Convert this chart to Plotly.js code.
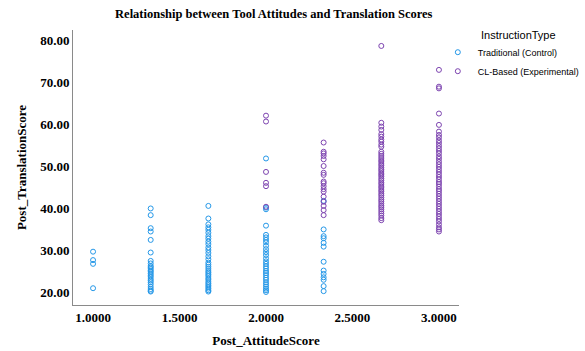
<!DOCTYPE html>
<html>
<head>
<meta charset="utf-8">
<script src="https://cdn.plot.ly/plotly-3.0.1.min.js"></script>
<style>
  html, body { margin: 0; padding: 0; background: #fff; }
  #chart { width: 585px; height: 351px; }
</style>
</head>
<body>
<div id="chart"></div>
<script>
// Attitude score levels (x); each score list below lines up with one level
const attitudeLevels = [1.0, 1.3333, 1.6667, 2.0, 2.3333, 2.6667, 3.0];

// Traditional (Control) group: post-test scores per attitude level
const ctrlScores = [
  [29.6, 27.6, 26.7, 20.9],
  [39.9, 38.3, 35.2, 34.4, 32.4, 29.4, 27.4, 26.8, 26.2, 25.9, 25.5, 25.1,
   24.8, 24.4, 24.0, 23.6, 23.1, 22.7, 22.3, 21.8, 21.2, 20.7, 20.3, 20.1],
  [40.5, 37.5, 36.1, 35.4, 34.8, 34.1, 33.3, 32.7, 32.0, 31.4, 30.6, 30.0,
   29.3, 28.5, 27.8, 27.0, 26.5, 26.0, 25.5, 25.0, 24.6, 24.2, 23.8, 23.3,
   22.9, 22.4, 22.0, 21.6, 21.2, 20.8, 20.4, 20.1],
  [51.8, 40.1, 39.7, 35.8, 33.6, 33.0, 32.4, 31.8, 31.0, 30.2, 29.5, 28.8,
   28.0, 27.3, 26.7, 26.1, 25.6, 25.0, 24.5, 24.0, 23.4, 22.9, 22.3, 21.8,
   21.3, 20.8, 20.4, 20.0],
  [41.7, 34.9, 33.3, 32.8, 31.7, 30.8, 27.2, 25.1, 24.3, 23.5, 22.9, 21.4, 20.2],
  [],
  []
];

// CL-Based (Experimental) group: post-test scores per attitude level
const expScores = [
  [],
  [],
  [],
  [62.0, 60.6, 48.6, 46.0, 45.2, 40.3],
  [55.6, 53.4, 53.0, 52.4, 51.6, 50.0, 48.4, 47.9, 46.3, 45.9, 45.2, 44.5,
   43.9, 42.7, 41.5, 40.5, 39.5, 38.3],
  [78.6, 60.3, 59.4, 58.6, 57.6, 57.0, 56.3, 55.8, 55.1, 54.6, 53.4, 52.9,
   52.4, 51.9, 51.4, 51.0, 50.5, 50.1, 49.6, 49.2, 48.8, 48.3, 47.9, 47.5,
   47.0, 46.6, 46.1, 45.7, 45.2, 44.8, 44.3, 43.9, 43.4, 43.0, 42.5, 42.0,
   41.6, 41.1, 40.6, 40.2, 39.7, 39.2, 38.7, 38.2, 37.6, 37.1],
  [72.9, 68.9, 68.5, 62.5, 59.8, 58.2, 57.4, 56.8, 56.1, 55.5, 54.8, 54.2,
   53.6, 53.0, 52.3, 51.7, 51.0, 50.4, 49.8, 49.2, 48.6, 48.0, 47.4, 46.8,
   46.2, 45.7, 45.1, 44.5, 44.0, 43.4, 42.8, 42.2, 41.6, 41.0, 40.4, 39.8,
   39.2, 38.6, 38.0, 37.4, 36.8, 36.1, 35.4, 34.9, 34.4]
];

const groupNames = ["Traditional (Control)", "CL-Based (Experimental)"];
const groupColors = ["#2598e8", "#7d44b0"];
const legendHeader = "InstructionType";

// Flatten per-level score lists into x/y point lists
function toPoints(table) {
  const xs = [], ys = [];
  table.forEach((scores, i) => {
    scores.forEach(v => { xs.push(attitudeLevels[i]); ys.push(v); });
  });
  return { xs, ys };
}

const traces = [ctrlScores, expScores].map((table, i) => {
  const p = toPoints(table);
  return {
    type: "scatter",
    mode: "markers",
    name: groupNames[i],
    x: p.xs,
    y: p.ys,
    marker: {
      symbol: "circle-open",
      size: 5,
      color: groupColors[i],
      line: { width: 1, color: groupColors[i] }
    },
    hoverinfo: "x+y+name"
  };
});

const serifBold = "Liberation Serif, Times New Roman, serif";

const layout = {
  width: 585,
  height: 351,
  margin: { l: 73, r: 126, t: 30, b: 46, autoexpand: false },
  paper_bgcolor: "#ffffff",
  plot_bgcolor: "#ffffff",
  showlegend: true,
  title: {
    text: "<b>Relationship between Tool Attitudes and Translation Scores</b>",
    font: { family: serifBold, size: 12.5, color: "#000" },
    x: 0.468, xanchor: "center",
    y: 0.96, yanchor: "middle"
  },
  xaxis: {
    range: [0.884, 3.116],
    tickvals: [1.0, 1.5, 2.0, 2.5, 3.0],
    tickformat: ".4f",
    showgrid: false,
    zeroline: false,
    showline: true,
    linecolor: "#8a8a8a",
    linewidth: 1,
    ticks: "",
    tickfont: { family: serifBold, size: 13, color: "#000", weight: "bold" },
    title: {
      text: "<b>Post_AttitudeScore</b>",
      font: { family: serifBold, size: 13, color: "#000" },
      standoff: 12
    }
  },
  yaxis: {
    range: [16.9, 82.4],
    tickvals: [20, 30, 40, 50, 60, 70, 80],
    tickformat: ".2f",
    showgrid: false,
    zeroline: false,
    showline: true,
    linecolor: "#8a8a8a",
    linewidth: 1,
    ticks: "",
    tickfont: { family: serifBold, size: 13, color: "#000", weight: "bold" },
    title: {
      text: "<b>Post_TranslationScore</b>",
      font: { family: serifBold, size: 13, color: "#000" },
      standoff: 10
    }
  },
  legend: {
    x: 0.984, xanchor: "left",
    y: 0.972, yanchor: "top",
    bgcolor: "rgba(0,0,0,0)",
    borderwidth: 0,
    indentation: -15,
    tracegroupgap: 0,
    font: { family: "Liberation Sans Narrow, Arial Narrow, Liberation Sans, Arial, sans-serif", size: 9, color: "#000" }
  },
  annotations: [{
    text: legendHeader,
    xref: "paper", yref: "paper",
    x: 1.052, y: 0.982,
    xanchor: "left", yanchor: "middle",
    showarrow: false,
    font: { family: "Liberation Sans, Arial, sans-serif", size: 11, color: "#000" }
  }]
};

Plotly.newPlot("chart", traces, layout, { staticPlot: true, displayModeBar: false });
</script>
</body>
</html>
